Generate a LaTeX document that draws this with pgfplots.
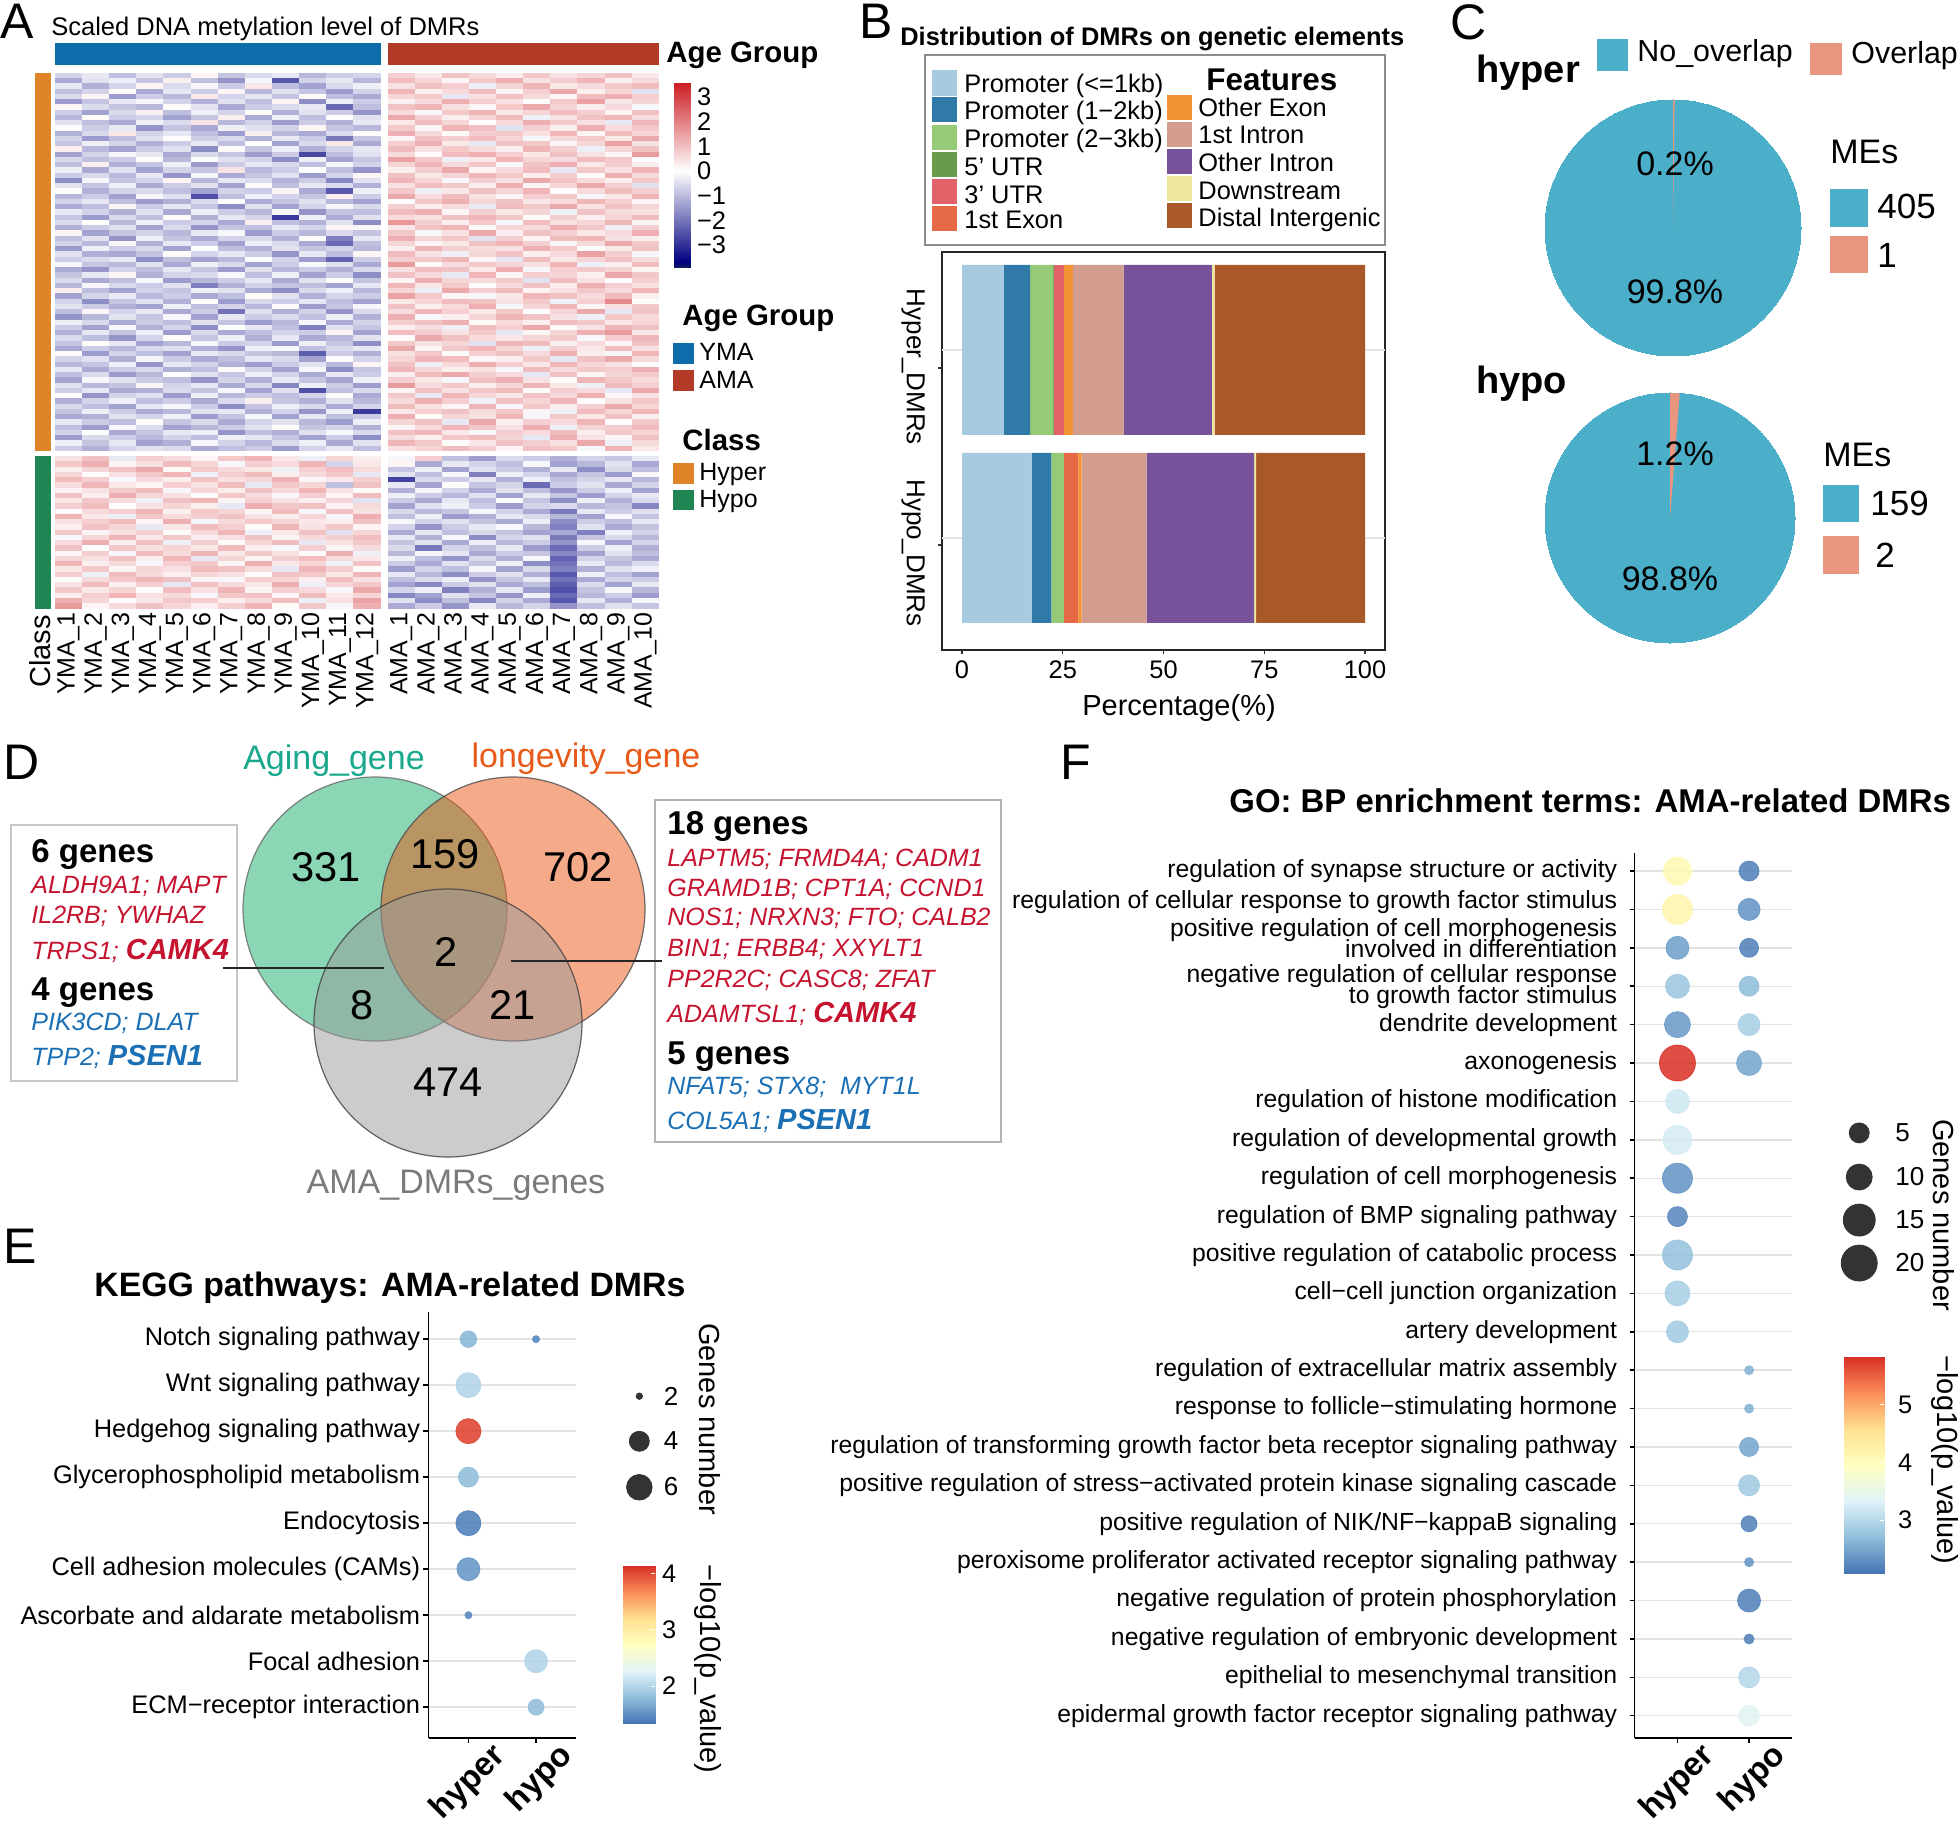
\documentclass[border=0pt]{standalone}
\usepackage{pgfplots}
\pgfplotsset{compat=1.18}
\usepackage{pgfplotstable}
\usepackage{fontspec}
\setmainfont{Liberation Sans}
\newcommand\fs[1]{\fontsize{#1}{#1}\selectfont}
\newcommand\TX[5][]{\node[anchor=west,inner sep=0pt,#1] at (#2,#3) {\fs{#4}#5};}
\definecolor{gred}{HTML}{C4122F}
\definecolor{gblue}{HTML}{1A6FB5}
\newcommand\RR[1]{\textcolor{gred}{\itshape #1}}
\newcommand\BB[1]{\textcolor{gblue}{\itshape #1}}
\newcommand\twol[2]{\vbox{\baselineskip=10.4pt\lineskiplimit=-100pt\halign{\hfil##\cr#1\cr#2\cr}}}
\pgfdeclareplotmark{hcell}{\pgfpathrectangle{\pgfpoint{-6.85pt}{-1.375pt}}{\pgfpoint{13.7pt}{2.75pt}}\pgfusepathqfill}
\pgfplotsset{
 pxbox/.code args={#1,#2,#3,#4}{%
  \pgfmathsetlengthmacro\pxW{(#3-#1)*0.5pt}\pgfmathsetlengthmacro\pxH{(#4-#2)*0.5pt}%
  \pgfplotsset{at={({#1*0.5pt},{-#4*0.5pt})},anchor=south west,scale only axis,width=\pxW,height=\pxH}},
 colormap={hm}{rgb255(0cm)=(22,30,90); rgb255(0.25cm)=(0,0,128); rgb255(3.93cm)=(255,255,255); rgb255(7.5cm)=(205,30,35)},
 colormap={rdyl}{rgb255(0cm)=(69,117,180); rgb255(1cm)=(145,191,219); rgb255(2cm)=(224,243,248); rgb255(3cm)=(255,255,191); rgb255(4cm)=(254,224,144); rgb255(5cm)=(252,141,89); rgb255(6cm)=(215,48,39)},
 cbar/.style={xmin=0,xmax=1,xtick=\empty,axis line style={draw=none},ytick pos=right,yticklabel pos=right,tick align=inside,major tick style={white,line width=0.5pt},major tick length=2pt,tick label style={font=\fs{12.7}},axis on top,clip=false},
 dots/.style={axis lines=left,axis line style={-,line width=0.75pt},ymajorgrids,grid style={gray!22,line width=0.7pt},tick align=outside,major tick length=2.5pt,major tick style={black,line width=0.75pt},clip=false,xtick={0,1},xticklabels={hyper,hypo},x tick label style={rotate=45,anchor=north east,font=\fs{16.5}\bfseries,inner sep=1pt,xshift=9.6pt,yshift=-5.4pt},colormap name=rdyl},
 dotplot/.style={scatter,only marks,mark=*,scatter src=explicit,scatter/use mapped color={draw=mapped color,fill=mapped color},visualization depends on={\thisrow{d}/4 \as \dotrad},scatter/@pre marker code/.append style={/tikz/mark size=\dotrad},mark options={opacity=0.88}},
 hidepie/.style={hide axis,xmin=-1,xmax=1,ymin=-1,ymax=1,clip=false}
}
\pgfplotstableread[header=false]{
-6 -3 -9 -4 -7 2 -8 -5 -3 -10 -7 -6 8 4 10 6 3 9 5 7 10 4
-12 -4 -2 -8 3 -9 -15 -1 -24 -6 -3 -10 11 7 2 9 13 5 8 12 3 6
-3 -11 -6 2 -5 -1 -7 4 -9 -13 -5 -2 5 10 8 -2 7 12 4 6 9 11
-9 -6 1 -12 -3 -7 2 -10 -4 -8 -14 -6 12 3 6 11 2 8 14 3 7 -4
-5 2 -14 -7 -10 4 -6 -3 -8 1 -9 -12 7 9 -3 5 10 6 2 11 13 8
-14 -8 -3 -1 -6 -11 -4 -9 2 -16 -2 -7 3 6 13 8 5 1 9 15 4 7
2 -5 -8 -10 1 -4 -12 -7 -5 -3 -21 -9 10 12 5 2 9 14 7 3 6 -1
-7 -13 -5 3 -9 -2 -6 1 -11 -4 -7 -15 6 -1 9 12 4 7 11 8 2 10
-10 1 -7 -6 -13 -8 3 -12 -2 -9 0 -4 14 8 3 7 11 -2 5 10 12 6
-4 -9 -12 -2 -5 5 -10 -6 -14 -7 -11 -3 4 11 7 1 6 13 9 5 -3 12
0 -7 -3 -15 -8 -12 -2 -4 -6 2 -8 -10 9 2 12 10 -4 8 3 13 6 9
-11 -5 4 -6 -3 -9 -14 3 -10 -12 -5 1 13 6 1 8 9 5 12 2 11 7
-6 -14 -9 -4 1 -7 -5 -11 -3 -7 -19 -8 2 10 8 11 7 -1 6 9 4 14
-8 -2 -6 -11 -7 -3 -9 0 -13 -5 4 -12 8 13 4 -3 10 9 2 7 15 5
3 -10 -13 -7 -4 -16 1 -8 -2 -11 -6 -3 11 5 9 6 3 12 8 -2 7 10
-13 -6 -1 -3 -12 -5 -8 -14 -7 -26 -9 -4 6 1 11 13 8 4 10 5 2 16
-5 -9 -7 1 -10 0 -4 -6 -16 -2 -13 -8 15 9 -2 4 12 7 6 11 9 1
-9 3 -11 -8 -2 -14 -7 -3 -5 -9 -1 -6 7 12 6 9 -1 10 13 4 8 3
-2 -12 -4 -13 -6 -8 5 -10 -7 0 -9 -15 3 8 14 2 6 11 -3 9 5 12
-7 -5 -10 -3 -15 -1 -12 -8 -4 -14 -6 2 10 4 7 12 9 3 8 1 13 6
-16 -1 -8 -6 2 -10 -3 -5 -11 -7 -17 -4 12 7 -1 8 5 14 10 6 3 9
-4 -8 -2 -12 -7 -4 -13 1 -9 -3 -5 -11 5 11 9 3 13 2 7 14 8 -4
1 -11 -6 -5 -9 -13 -6 -7 2 -12 -24 -2 9 -2 4 10 7 12 1 6 11 8
-10 -7 -13 -1 -4 -25 -9 -2 -6 -8 3 -7 14 6 11 5 2 8 9 -1 4 12
-6 -3 -9 -14 -11 -5 0 -12 -8 -4 -10 -13 1 9 13 7 10 4 6 12 8 2
-12 -9 2 -7 -3 -8 -16 -4 -13 -6 -1 -5 8 3 6 -3 11 9 14 5 10 7
-3 -6 -11 -4 -12 -2 -7 -10 -1 -15 -8 -9 11 13 2 8 4 7 -2 10 6 5
-8 -14 -5 -9 1 -11 -3 -6 -28 -2 -12 -4 6 5 10 12 9 1 8 3 7 11
-5 0 -10 -2 -7 -6 -12 3 -9 -11 -4 -16 17 8 3 9 -1 11 5 7 12 2
-11 -7 -4 -13 -5 -15 -8 -9 -3 -6 2 -1 4 10 12 1 7 6 13 9 -2 8
2 -13 -8 -6 -10 -3 -1 -14 -7 -10 -5 -8 9 -1 5 14 3 10 8 4 6 13
-9 -4 -15 -2 -8 -12 -6 -5 -11 1 -18 -3 13 7 9 -4 8 2 11 12 5 3
-6 -10 -1 -11 -3 -7 -13 -2 -5 -12 -21 -9 7 2 4 10 12 8 -1 6 14 9
-14 -2 -7 -5 -13 0 -9 -11 -4 -8 -6 -10 3 12 8 6 5 13 9 1 4 10
-4 -11 -12 -8 1 -6 -3 -7 -15 -3 -9 2 11 5 -2 7 10 3 6 15 8 -1
-7 -5 -3 -16 -9 -13 -10 0 -6 -14 -22 -7 8 9 12 2 -3 11 4 7 10 6
-1 -8 -10 -4 -12 -2 -5 -13 -7 -1 -4 -12 16 1 6 9 7 5 12 -2 3 11
-12 -15 -6 -9 -3 -8 -14 -4 -10 -7 -11 -5 5 11 10 4 13 -1 8 9 7 2
-8 -3 2 -11 -6 -5 -1 -9 -2 -13 -7 -16 10 6 -3 12 2 8 7 3 14 9
-5 -12 -9 -1 -14 -10 -7 -3 -12 -4 1 -8 2 13 7 6 9 -4 11 5 1 8
-10 -1 -5 -7 -4 -18 -11 -6 -8 -9 -13 -3 12 4 9 1 6 10 3 13 8 5
3 -9 -13 -6 -8 -2 -4 -12 -16 -5 -2 -10 7 -2 14 8 11 2 5 9 6 12
-13 -6 -3 -10 -7 -12 -9 1 -4 -11 -6 -7 15 9 2 -1 4 12 10 6 11 3
-6 -16 -8 -4 -11 0 -14 -5 -7 -3 -9 -13 4 7 11 10 5 9 -2 8 19 1
-4 -7 -11 -13 -2 -9 -6 -10 1 -14 -8 -1 10 3 6 13 -1 7 12 2 5 9
-9 2 -6 -3 -12 -7 -20 -4 -11 -6 -15 -5 6 12 8 4 9 1 7 14 -3 10
-15 -10 -4 -8 -1 -13 -3 -7 -5 -9 -2 -11 13 -1 3 7 12 10 5 -2 9 6
-2 -5 -12 -7 -9 -4 -8 -14 -10 -1 -12 -6 8 10 13 1 6 3 11 9 4 7
-7 -13 -1 -11 -6 -16 0 -3 -9 -18 -4 -8 3 6 -2 11 8 14 1 5 12 10
-11 -3 -8 -2 -14 -5 -12 -9 -6 -7 2 -13 11 8 5 9 -3 2 7 13 16 4
-5 -9 -15 -6 1 -8 -2 -11 -3 -12 -10 -4 1 14 10 6 4 7 9 -1 8 12
-8 1 -3 -13 -10 -1 -7 -6 -14 -2 -8 -16 9 5 7 -4 12 11 3 6 2 10
-12 -7 -10 -5 -4 -11 -15 -2 -1 -9 -5 -3 14 2 9 12 7 -2 8 4 11 5
1 -14 -6 -9 -13 -3 -5 -8 -10 -23 -7 -11 5 9 1 8 10 6 13 3 -1 12
-6 -4 -11 -1 -7 -12 -9 -3 -5 -13 0 -6 7 12 11 2 3 9 -3 10 14 6
-10 -8 -2 -15 -3 -6 -11 -14 -7 -4 -10 2 10 -2 6 13 8 4 12 7 5 1
-3 -12 -7 -5 -11 -9 1 -6 -13 -1 -16 -8 12 7 3 5 -1 11 6 9 8 13
-9 -5 -14 -10 0 -4 -8 -2 -6 -12 -3 -7 3 11 14 8 6 -3 10 2 7 9
-13 -1 -4 -7 -9 -15 -6 -11 -3 -8 -13 -2 8 4 -1 10 13 5 1 12 9 6
-4 -10 -8 2 -6 -3 -12 -5 -17 -2 -7 -14 16 6 9 3 7 12 4 -2 11 8
-7 -3 -12 -11 -5 -8 -1 -13 -4 -25 -9 -5 2 10 5 9 11 1 8 6 -3 14
0 -15 -6 -4 -14 -2 -10 -7 -9 -6 1 -12 9 -3 12 7 4 10 6 13 2 5
-11 -6 -2 -9 -7 -12 -5 3 -8 -11 -4 -10 6 13 8 -2 10 7 12 1 5 9
-5 -9 -13 -3 -1 -7 -16 -8 -2 -5 -12 -6 11 5 2 12 -1 9 3 8 14 7
-8 -2 -7 -12 -10 -4 -3 -11 -6 -15 -2 -28 4 8 10 6 9 2 -2 11 7 12
-12 -11 -4 -6 -2 -14 -8 -1 -13 -3 -9 -7 13 1 7 5 12 -1 9 4 10 3
-3 -7 -9 1 -8 -5 -12 -6 -4 -10 -14 -2 7 10 -3 14 3 8 6 12 1 9
-9 -14 -1 -5 -13 -10 -7 -4 0 -8 -6 -11 2 6 12 9 5 13 -2 7 8 11
-6 0 -12 -8 -3 -2 -15 -9 -11 -4 -1 -5 10 12 4 -1 8 6 11 3 9 7
-14 -5 -7 -10 -6 -9 -2 -3 -8 -13 -7 -16 6 3 9 11 7 -3 13 5 2 10
-2 -8 -3 -13 -11 -1 -6 -10 -5 -2 -12 -4 12 9 1 4 10 8 5 14 -2 6
-7 -11 -6 -4 -5 -12 -9 -7 -14 -6 -3 -9 5 7 11 8 2 10 9 -1 12 4
5 10 -3 8 6 2 9 12 4 -2 7 3 -1 8 -9 -14 -5 -7 -11 -6 -8 -3
9 13 2 5 11 7 -1 8 6 12 -6 4 2 -12 -3 -6 -9 -1 -13 -10 -4 -12
3 7 10 14 1 9 6 4 -2 8 11 6 -8 -2 -13 -4 -7 -11 -3 -16 -5 -9
7 1 5 9 12 -2 8 11 3 6 9 -3 -4 -9 -1 -18 -2 -6 -12 -8 -14 -1
11 8 -1 6 3 10 5 7 13 2 4 8 -27 -5 -7 -3 -11 -2 -9 -6 -3 -10
6 12 4 2 8 5 11 -3 9 7 -9 10 -3 -13 1 -8 -6 -21 -7 -4 -12 -6
2 5 9 11 -1 7 3 10 6 12 5 1 -11 -1 -6 -12 -4 -9 -15 -7 -2 -13
10 3 13 7 5 1 9 6 -1 8 2 11 -2 -7 -10 -4 -13 -3 -8 -14 -6 -3
4 9 6 -2 10 12 2 8 5 3 7 -4 -7 -12 -3 -9 0 -8 -16 -2 -11 -5
8 11 1 5 7 3 -3 13 9 10 2 6 -13 -4 -2 -7 -14 -6 -5 -10 -8 -17
1 6 8 12 3 9 7 2 11 -1 10 5 -5 -10 -8 -1 -6 -12 -19 -3 -7 -4
12 4 -2 9 6 8 10 5 3 7 -1 13 -9 -2 -14 -11 -3 -5 -10 -13 -1 -8
5 8 11 2 13 -1 6 9 7 4 3 10 -1 -6 -4 -8 -12 -2 -16 -7 -9 -3
3 10 7 -3 4 11 8 1 12 5 9 2 -6 -15 -7 -3 -1 -10 -18 -4 -12 -8
9 2 5 8 1 6 12 -2 4 10 -4 7 -12 -3 -9 -5 -8 -13 -12 -18 -2 -6
-1 7 12 4 9 3 5 10 2 6 8 11 -3 -11 -1 -16 -6 -4 -19 -8 -5 -10
6 13 3 10 -2 8 1 7 11 -3 5 9 -8 -4 -12 -2 -10 -7 -15 -1 -13 -6
10 1 9 5 7 4 11 3 -1 8 2 6 -5 -19 -6 -9 -3 -14 -21 -7 -2 -11
2 8 -1 11 6 12 4 9 5 1 13 -2 -10 -1 -3 -12 -7 -8 -17 -13 -4 -9
7 5 10 3 12 -3 7 2 8 11 6 4 -2 -9 -15 -5 -11 -1 -22 -6 -8 -12
12 3 6 -1 8 9 2 13 4 7 -2 10 -7 -12 -4 -8 -2 -16 -20 -3 -10 -5
4 9 2 7 5 11 10 6 -3 12 8 1 -14 -6 -9 -1 -13 -5 -18 -11 -4 -2
8 -2 11 6 3 7 5 1 10 9 4 12 -3 -10 -16 -7 -4 -11 -24 -2 -9 -13
1 6 9 12 10 2 -1 8 7 3 11 5 -9 -5 -2 -15 -8 -3 -20 -12 -6 -7
5 11 3 8 -3 10 6 4 13 -2 7 9 -13 -17 -7 -4 -12 -9 -23 -5 -13 -3
9 4 7 1 11 5 12 2 8 6 -1 14 -6 -2 -18 -11 -3 -14 -25 -8 -1 -10
3 8 12 5 6 -1 9 10 2 11 4 7 -17 -13 -4 -8 -15 -2 -21 -10 -7 -14
13 7 1 4 9 8 3 6 11 -2 5 15 -4 -16 -9 -17 -6 -12 -24 -3 -11 -1
16 2 6 10 7 3 8 12 1 9 -1 13 -12 -7 -15 -3 -10 -6 -15 -9 -4 -8
}\hm
\begin{document}
\begin{tikzpicture}
\useasboundingbox (0,0) rectangle (980pt,-912pt);
% ---------- A heatmap
\begin{axis}[pxbox={55,73,659,608.5},xmin=0,xmax=22.26,ymin=0,ymax=102,clip=false,axis line style={draw=none},major tick length=0pt,ytick=\empty,
 xtick={0.5,1.5,2.5,3.5,4.5,5.5,6.5,7.5,8.5,9.5,10.5,11.5,12.76,13.76,14.76,15.76,16.76,17.76,18.76,19.76,20.76,21.76},
 xticklabels={YMA\_1,YMA\_2,YMA\_3,YMA\_4,YMA\_5,YMA\_6,YMA\_7,YMA\_8,YMA\_9,YMA\_10,YMA\_11,YMA\_12,AMA\_1,AMA\_2,AMA\_3,AMA\_4,AMA\_5,AMA\_6,AMA\_7,AMA\_8,AMA\_9,AMA\_10},
 x tick label style={rotate=90,anchor=east,font=\fs{12.5},inner sep=2pt},
 colormap name=hm,point meta min=-39,point meta max=36]
\pgfplotsinvokeforeach{0,...,21}{
 \addplot[scatter,only marks,mark=hcell,scatter src=explicit,scatter/use mapped color={draw=mapped color,fill=mapped color}]
  table[x expr={#1+0.5+(#1>11)*0.26},y expr={102-(\coordindex+0.5+(\coordindex>71))},meta index=#1] {\hm};
}
\addplot[draw=none,fill={rgb,255:red,15;green,108;blue,171}] coordinates {(0,103.5)(12,103.5)(12,107.7)(0,107.7)} --cycle;
\addplot[draw=none,fill={rgb,255:red,179;green,58;blue,39}] coordinates {(12.26,103.5)(22.26,103.5)(22.26,107.7)(12.26,107.7)} --cycle;
\addplot[draw=none,fill={rgb,255:red,223;green,132;blue,41}] coordinates {(-0.74,30)(-0.15,30)(-0.15,102)(-0.74,102)} --cycle;
\addplot[draw=none,fill={rgb,255:red,31;green,133;blue,83}] coordinates {(-0.74,0)(-0.15,0)(-0.15,29)(-0.74,29)} --cycle;
\end{axis}
% colorbar A
\begin{axis}[pxbox={674,83,690,268},cbar,ymin=-3.93,ymax=3.57,colormap name=hm,point meta min=-3.93,point meta max=3.57,
 ytick={-3,-2,-1,0,1,2,3},yticklabels={−3,−2,−1,0,1,2,3},major tick length=0pt]
\addplot[surf,shader=interp,mesh/cols=2,point meta=y] coordinates {(0,-3.93)(1,-3.93)(0,-3.68)(1,-3.68)(0,0)(1,0)(0,3.57)(1,3.57)};
\end{axis}
% ---------- B stacked bars
\begin{axis}[pxbox={942,252,1385,650},xbar stacked,bar width=85pt,xmin=-4.96,xmax=104.96,ymin=-0.596,ymax=1.521,
 ytick={-0.037,0.904},yticklabel=\empty,xtick={0,25,50,75,100},xticklabels={0,25,50,75,100},tick pos=left,tick align=outside,major tick length=2pt,
 axis line style={line width=1pt,black!85},major tick style={black!80,line width=0.6pt},x tick label style={font=\fs{12.7}},every axis plot/.append style={draw=none}]
\addplot[fill={rgb,255:red,166;green,202;blue,223}] coordinates {(10.3,1)(17.3,0)};
\addplot[fill={rgb,255:red,47;green,122;blue,168}] coordinates {(6.6,1)(4.9,0)};
\addplot[fill={rgb,255:red,149;green,202;blue,119}] coordinates {(5.8,1)(3.1,0)};
\addplot[fill={rgb,255:red,106;green,154;blue,76}] coordinates {(0.1,1)(0,0)};
\addplot[fill={rgb,255:red,226;green,98;blue,106}] coordinates {(2.4,1)(0,0)};
\addplot[fill={rgb,255:red,229;green,106;blue,69}] coordinates {(0.1,1)(3.6,0)};
\addplot[fill={rgb,255:red,243;green,148;blue,52}] coordinates {(2.2,1)(0.8,0)};
\addplot[fill={rgb,255:red,210;green,157;blue,143}] coordinates {(12.6,1)(16.1,0)};
\addplot[fill={rgb,255:red,119;green,82;blue,155}] coordinates {(21.9,1)(26.7,0)};
\addplot[fill={rgb,255:red,236;green,231;blue,154}] coordinates {(0.7,1)(0.5,0)};
\addplot[fill={rgb,255:red,169;green,88;blue,41}] coordinates {(37.3,1)(27,0)};
\draw[gray!20,line width=0.7pt] (axis cs:-4.96,1) -- (axis cs:0,1) (axis cs:100,1) -- (axis cs:104.96,1);
\draw[gray!20,line width=0.7pt] (axis cs:-4.96,0) -- (axis cs:0,0) (axis cs:100,0) -- (axis cs:104.96,0);
\draw[white!90!gray,line width=0.7pt] (axis cs:0,1) -- (axis cs:16.9,1);
\draw[white!90!gray,line width=0.7pt] (axis cs:0,0) -- (axis cs:17.3,0);
\end{axis}
% ---------- C pies
\begin{axis}[pxbox={1545,100,1801,356},hidepie]
\addplot[only marks,mark=*,mark size=64pt,mark options={fill={rgb,255:red,76;green,175;blue,201},draw={rgb,255:red,76;green,175;blue,201},line width=0pt}] coordinates {(0,0)};
\end{axis}
\begin{axis}[pxbox={1545,100,1801,356},hidepie]
\addplot[draw=none,fill={rgb,255:red,232;green,150;blue,125}] coordinates {(0,0)(0,1)(0.0126,1)} --cycle;
\end{axis}
\begin{axis}[pxbox={1545,393,1795,643},hidepie]
\addplot[only marks,mark=*,mark size=62.5pt,mark options={fill={rgb,255:red,76;green,175;blue,201},draw={rgb,255:red,76;green,175;blue,201},line width=0pt}] coordinates {(0,0)};
\end{axis}
\begin{axis}[pxbox={1545,393,1795,643},hidepie]
\addplot[draw=none,fill={rgb,255:red,232;green,150;blue,125}] coordinates {(0,0)(0,1)(0.078,0.997)} --cycle;
\end{axis}
% ---------- D venn
\begin{axis}[pxbox={200,760,660,1170},hide axis,xmin=200,xmax=660,ymin=-1170,ymax=-760,clip=false]
\addplot[only marks,mark=*,mark size=66pt,mark options={fill={rgb,255:red,23;green,173;blue,105},fill opacity=0.5,draw=black!60,draw opacity=0.8,line width=0.6pt}] coordinates {(375,-909)};
\addplot[only marks,mark=*,mark size=66pt,mark options={fill={rgb,255:red,235;green,85;blue,21},fill opacity=0.5,draw=black!70,draw opacity=0.8,line width=0.6pt}] coordinates {(513,-909)};
\addplot[only marks,mark=*,mark size=67pt,mark options={fill=black!40,fill opacity=0.5,draw=black!75,draw opacity=0.8,line width=0.6pt}] coordinates {(448,-1023)};
\end{axis}
% ---------- E dots
\begin{axis}[pxbox={428.5,1312,576,1738},dots,xmin=-0.59,xmax=1.59,ymin=-0.67,ymax=8.59,ytick={0,...,8},point meta min=1.34,point meta max=4.14,y tick label style={font=\fs{12.7},inner sep=1.5pt},
 yticklabels={ECM−receptor interaction,Focal adhesion,Ascorbate and aldarate metabolism,Cell adhesion molecules (CAMs),Endocytosis,Glycerophospholipid metabolism,Hedgehog signaling pathway,Wnt signaling pathway,Notch signaling pathway}]
\addplot[dotplot] table[x=x,y=y,meta=p] {
x y d p
0 8 16.5 1.75
1 8 7 1.45
0 7 25 2.0
0 6 25 4.05
0 5 20 1.8
0 4 25 1.4
0 3 23 1.55
0 2 7 1.45
1 1 23 2.0
1 0 16 1.8
};
\addplot[only marks,mark=*,mark size=1.6pt,black!80] coordinates {(2.526,6.76)};
\addplot[only marks,mark=*,mark size=5pt,black!80] coordinates {(2.526,5.78)};
\addplot[only marks,mark=*,mark size=6.4pt,black!80] coordinates {(2.526,4.78)};
\end{axis}
\begin{axis}[pxbox={623,1566,655,1723},cbar,ymin=1.34,ymax=4.14,colormap name=rdyl,point meta min=1.34,point meta max=4.14,ytick={2,3,4},yticklabels={2,3,4}]
\addplot[surf,shader=interp,mesh/cols=2,point meta=y] coordinates {(0,1.34)(1,1.34)(0,2.74)(1,2.74)(0,4.14)(1,4.14)};
\end{axis}
% ---------- F dots
\begin{axis}[pxbox={1634.5,853,1792,1738},dots,xmin=-0.6,xmax=1.6,ymin=-0.58,ymax=22.47,ytick={0,...,22},point meta min=2.08,point meta max=5.83,y tick label style={font=\fs{12.37},inner sep=6pt},
 yticklabels={epidermal growth factor receptor signaling pathway,epithelial to mesenchymal transition,negative regulation of embryonic development,negative regulation of protein phosphorylation,peroxisome proliferator activated receptor signaling pathway,positive regulation of NIK/NF−kappaB signaling,positive regulation of stress−activated protein kinase signaling cascade,regulation of transforming growth factor beta receptor signaling pathway,response to follicle−stimulating hormone,regulation of extracellular matrix assembly,artery development,cell−cell junction organization,positive regulation of catabolic process,regulation of BMP signaling pathway,regulation of cell morphogenesis,regulation of developmental growth,regulation of histone modification,axonogenesis,dendrite development,{\twol{negative regulation of cellular response}{to growth factor stimulus}},{\raisebox{10pt}{\twol{positive regulation of cell morphogenesis}{involved in differentiation}}},{\raisebox{10pt}{regulation of cellular response to growth factor stimulus}},regulation of synapse structure or activity}]
\addplot[dotplot] table[x=x,y=y,meta=p] {
x y d p
0 22 28 4.1
0 21 30 4.15
0 20 23 2.45
0 19 24 2.8
0 18 26 2.4
0 17 36 5.8
0 16 24 3.2
0 15 29 3.25
0 14 30 2.35
0 13 20 2.25
0 12 30 2.75
0 11 25 2.9
0 10 22 2.85
1 22 20 2.2
1 21 22 2.35
1 20 19 2.2
1 19 20 2.7
1 18 22 2.9
1 17 25 2.5
1 9 9 2.6
1 8 9 2.6
1 7 19 2.5
1 6 21 2.85
1 5 16 2.2
1 4 9 2.35
1 3 23 2.2
1 2 10 2.2
1 1 21 3.0
1 0 21 3.4
};
\addplot[only marks,mark=*,mark size=5pt,black!80] coordinates {(2.539,15.18)};
\addplot[only marks,mark=*,mark size=6.5pt,black!80] coordinates {(2.539,14.03)};
\addplot[only marks,mark=*,mark size=8pt,black!80] coordinates {(2.539,12.91)};
\addplot[only marks,mark=*,mark size=9pt,black!80] coordinates {(2.539,11.79)};
\end{axis}
\begin{axis}[pxbox={1844,1357,1884,1573},cbar,ymin=2.08,ymax=5.83,colormap name=rdyl,point meta min=2.08,point meta max=5.83,ytick={3,4,5},yticklabels={3,4,5},y tick label style={xshift=3.5pt}]
\addplot[surf,shader=interp,mesh/cols=2,point meta=y] coordinates {(0,2.08)(1,2.08)(0,3.95)(1,3.95)(0,5.83)(1,5.83)};
\end{axis}
% ---------- annotations in pixel coordinates
\begin{scope}[x=0.5pt,y=-0.5pt]
% letters
\TX{0}{21}{25}{A}\TX{859}{21}{25}{B}\TX{1450}{22}{25}{C}\TX{3}{762}{25}{D}\TX{3}{1246}{25}{E}\TX{1060}{762}{25}{F}
% A
\TX{51}{28.5}{12.75}{Scaled DNA metylation level of DMRs}
\TX{666}{55.5}{14.7}{\bfseries Age Group}
\TX[rotate=90,anchor=east]{40}{615}{14.5}{Class}
\TX{682}{318}{14.7}{\bfseries Age Group}
\fill[fill={rgb,255:red,15;green,108;blue,171}] (673,343) rectangle (694,364);
\fill[fill={rgb,255:red,179;green,58;blue,39}] (673,370) rectangle (694,391);
\TX{699}{352}{12.5}{YMA}\TX{699}{380}{12.5}{AMA}
\TX{682}{440}{14.7}{\bfseries Class}
\fill[fill={rgb,255:red,223;green,132;blue,41}] (673,463) rectangle (694,484);
\fill[fill={rgb,255:red,31;green,133;blue,83}] (673,490) rectangle (694,510);
\TX{699}{474}{12.5}{Hyper}\TX{699}{501}{12.5}{Hypo}
% B
\TX{900}{38.5}{12.7}{\bfseries Distribution of DMRs on genetic elements}
\draw[black!45,line width=0.8pt] (925,55) rectangle (1385,245);
\fill[fill={rgb,255:red,166;green,202;blue,223}] (932,70) rectangle (957,96);
\fill[fill={rgb,255:red,47;green,122;blue,168}] (932,97) rectangle (957,122);
\fill[fill={rgb,255:red,149;green,202;blue,119}] (932,125) rectangle (957,150);
\fill[fill={rgb,255:red,106;green,154;blue,76}] (932,152) rectangle (957,177);
\fill[fill={rgb,255:red,226;green,98;blue,106}] (932,179) rectangle (957,204);
\fill[fill={rgb,255:red,229;green,106;blue,69}] (932,206) rectangle (957,231);
\TX{964}{85.5}{12.7}{Promoter (<=1kb)}\TX{964}{112.5}{12.7}{Promoter (1−2kb)}\TX{964}{140.5}{12.7}{Promoter (2−3kb)}
\TX{964}{167}{12.7}{5' UTR}\TX{964}{195}{12.7}{3' UTR}\TX{964}{219.5}{12.7}{1st Exon}
\TX{1206}{80}{15.7}{\bfseries Features}
\fill[fill={rgb,255:red,243;green,148;blue,52}] (1167,95) rectangle (1192,120);
\fill[fill={rgb,255:red,210;green,157;blue,143}] (1167,122) rectangle (1192,147);
\fill[fill={rgb,255:red,119;green,82;blue,155}] (1167,149) rectangle (1192,174);
\fill[fill={rgb,255:red,236;green,231;blue,154}] (1167,176) rectangle (1192,201);
\fill[fill={rgb,255:red,169;green,88;blue,41}] (1167,203) rectangle (1192,228);
\TX{1198}{107}{12.7}{Other Exon}\TX{1198}{135}{12.7}{1st Intron}\TX{1198}{162}{12.7}{Other Intron}\TX{1198}{191}{12.7}{Downstream}\TX{1198}{220}{12.7}{Distal Intergenic}
\TX[rotate=-90,anchor=center]{913}{367}{13}{Hyper\_DMRs}
\TX[rotate=-90,anchor=center]{913}{553}{13}{Hypo\_DMRs}
\TX[anchor=center]{1179}{707.5}{14.5}{Percentage(\%)}
% C
\TX{1476}{72.5}{19}{\bfseries hyper}\TX{1476}{383.5}{19}{\bfseries hypo}
\fill[fill={rgb,255:red,76;green,175;blue,201}] (1597,39) rectangle (1628,71);
\fill[fill={rgb,255:red,232;green,150;blue,125}] (1810,43) rectangle (1842,75);
\TX{1637}{54}{15.2}{No\_overlap}\TX{1851}{55.5}{15.2}{Overlap}
\TX[anchor=center]{1675}{164}{17}{0.2\%}\TX[anchor=center]{1675}{292}{17}{99.8\%}
\TX[anchor=center]{1675}{454}{17}{1.2\%}\TX[anchor=center]{1670}{579}{17}{98.8\%}
\TX{1830}{152}{17}{MEs}
\fill[fill={rgb,255:red,76;green,175;blue,201}] (1830,189) rectangle (1868,227);
\fill[fill={rgb,255:red,232;green,150;blue,125}] (1830,236) rectangle (1868,273);
\TX{1877}{206}{17.5}{405}\TX{1877}{255}{17.5}{1}
\TX{1823}{455}{17}{MEs}
\fill[fill={rgb,255:red,76;green,175;blue,201}] (1823,485) rectangle (1859,522);
\fill[fill={rgb,255:red,232;green,150;blue,125}] (1823,536) rectangle (1859,574);
\TX{1870}{503}{17.5}{159}\TX{1875}{555}{17.5}{2}
% D
\TX[anchor=center,text={rgb,255:red,26;green,168;blue,140}]{334}{761}{17}{Aging\_gene}
\TX[anchor=center,text={rgb,255:red,232;green,90;blue,26}]{586}{759}{17}{longevity\_gene}
\TX[anchor=center,text=black!52]{456}{1185}{17}{AMA\_DMRs\_genes}
\TX[anchor=center]{326}{867}{20.8}{331}\TX[anchor=center]{445}{854}{20.8}{159}\TX[anchor=center]{578}{867}{20.8}{702}
\TX[anchor=center]{446}{952}{20.8}{2}\TX[anchor=center]{362}{1005}{20.8}{8}\TX[anchor=center]{513}{1005}{20.8}{21}\TX[anchor=center]{448}{1082}{20.8}{474}
\draw[black!22,line width=0.8pt] (11,825) rectangle (237,1081);
\draw[black!30,line width=0.8pt] (655,800) rectangle (1001,1142);
\draw[black!85,line width=0.8pt] (223,968) -- (384,968);
\draw[black!85,line width=0.8pt] (511,961) -- (662,961);
\TX{31}{854.5}{16.5}{\bfseries 6 genes}
\TX{31}{886.5}{12.5}{\RR{ALDH9A1; MAPT}}
\TX{31}{916}{12.5}{\RR{IL2RB; YWHAZ}}
\TX{31}{950.5}{12.5}{\RR{TRPS1; {\fs{14.5}\bfseries CAMK4}}}
\TX{31}{992.5}{16.5}{\bfseries 4 genes}
\TX{31}{1023}{12.5}{\BB{PIK3CD; DLAT}}
\TX{31}{1057}{12.5}{\BB{TPP2; {\fs{14.5}\bfseries PSEN1}}}
\TX{667}{826.5}{16.5}{\bfseries 18 genes}
\TX{667}{859}{12.5}{\RR{LAPTM5; FRMD4A; CADM1}}
\TX{667}{889}{12.5}{\RR{GRAMD1B; CPT1A; CCND1}}
\TX{667}{918.5}{12.5}{\RR{NOS1; NRXN3; FTO; CALB2}}
\TX{667}{949}{12.5}{\RR{BIN1; ERBB4; XXYLT1}}
\TX{667}{980}{12.5}{\RR{PP2R2C; CASC8; ZFAT}}
\TX{667}{1014}{12.5}{\RR{ADAMTSL1; {\fs{14.5}\bfseries CAMK4}}}
\TX{667}{1056.5}{16.5}{\bfseries 5 genes}
\TX{667}{1087}{12.5}{\BB{NFAT5; STX8;\ \ MYT1L}}
\TX{667}{1121}{12.5}{\BB{COL5A1; {\fs{14.5}\bfseries PSEN1}}}
% E
\TX{94}{1288}{16.9}{\bfseries KEGG pathways: AMA-related DMRs}
\TX[rotate=-90,anchor=center]{710}{1419}{14.5}{Genes number}
\TX[rotate=-90,anchor=center]{708}{1669}{14.5}{−log10(p\_value)}
\TX[anchor=center]{671}{1396}{13}{2}\TX[anchor=center]{671}{1441}{13}{4}\TX[anchor=center]{671}{1487}{13}{6}
% F
\TX{1229}{801}{16.45}{\bfseries GO: BP enrichment terms: AMA-related DMRs}
\TX{1895}{1133}{13}{5}\TX{1895}{1177}{13}{10}\TX{1895}{1220}{13}{15}\TX{1895}{1263}{13}{20}
\TX[rotate=-90,anchor=center]{1944}{1215}{14.5}{Genes number}
\TX[rotate=-90,anchor=center]{1945}{1460}{14.5}{−log10(p\_value)}
\end{scope}
\end{tikzpicture}
\end{document}
